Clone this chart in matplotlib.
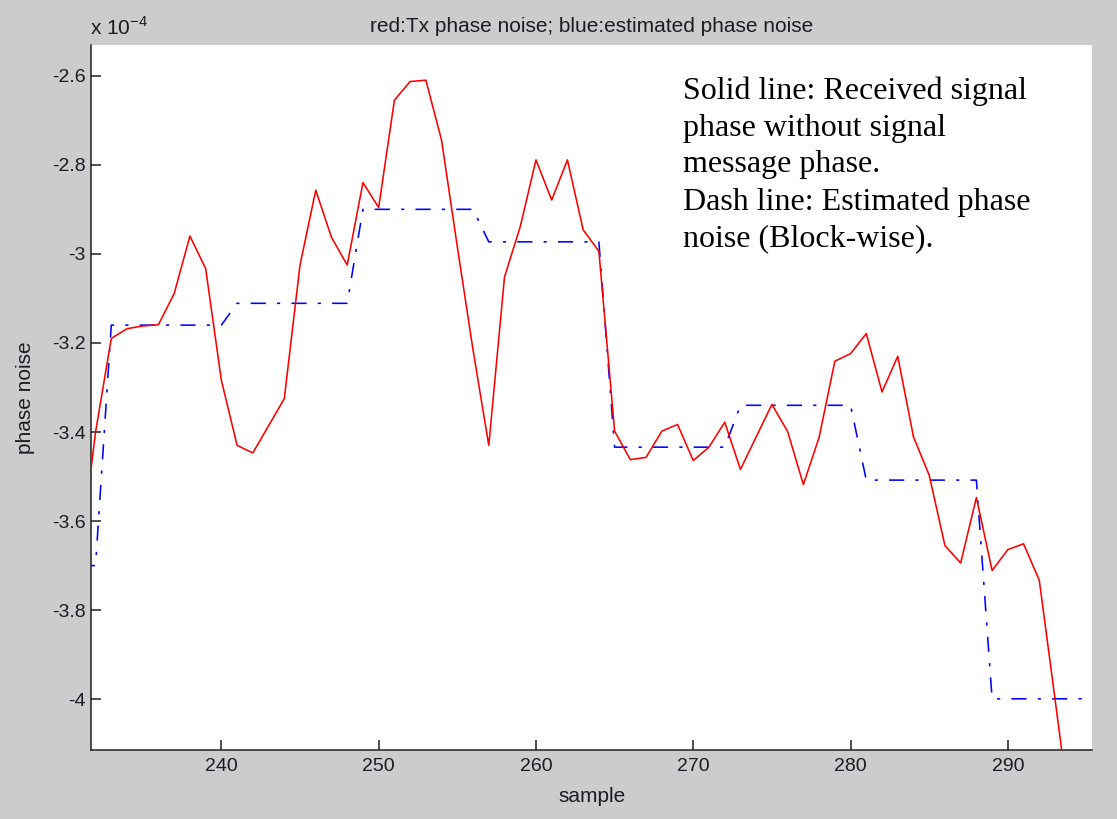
import matplotlib
matplotlib.use("Agg")
import matplotlib.pyplot as plt
from matplotlib.ticker import FuncFormatter

# samples
samples = list(range(231, 295))

# received phase noise (units of 1e-4 rad), red solid
tx_phase = [-3.69, -3.40, -3.19, -3.168, -3.162, -3.159, -3.089, -2.960, -3.033, -3.284,
            -3.430, -3.447, -3.386, -3.325, -3.025, -2.857, -2.963, -3.025, -2.840, -2.896,
            -2.655, -2.613, -2.610, -2.745, -2.984, -3.216, -3.430, -3.052, -2.939, -2.789,
            -2.879, -2.789, -2.946, -2.994, -3.398, -3.462, -3.457, -3.398, -3.383, -3.464,
            -3.434, -3.378, -3.484, -3.411, -3.338, -3.399, -3.518, -3.412, -3.241, -3.224,
            -3.179, -3.310, -3.230, -3.411, -3.497, -3.655, -3.694, -3.547, -3.711, -3.664,
            -3.651, -3.733, -4.000, -4.270]

# block-wise estimated phase noise (8-sample blocks), blue dash-dot
block_starts = [225, 233, 241, 249, 257, 265, 273, 281, 289]
block_values = [-3.700, -3.160, -3.111, -2.900, -2.973, -3.434, -3.340, -3.508, -3.999]
block_len = 8

est_x = []
est_y = []
for b0, bv in zip(block_starts, block_values):
    for s in range(b0, b0 + block_len):
        if 231 <= s <= 296:
            est_x.append(s)
            est_y.append(bv)

title = "red:Tx phase noise; blue:estimated phase noise"
note = ("Solid line: Received signal\nphase without signal\nmessage phase.\n"
        "Dash line: Estimated phase\nnoise (Block-wise).")
x_ticks = [240, 250, 260, 270, 280, 290]
y_ticks = [-4.0, -3.8, -3.6, -3.4, -3.2, -3.0, -2.8, -2.6]

plt.rcParams['font.family'] = ['Liberation Sans', 'DejaVu Sans']
TXT = '#1c1c24'

W, H = 1117, 819
fig = plt.figure(figsize=(W / 100, H / 100), dpi=100, facecolor='#cccccc')
ax = fig.add_axes([91.3 / W, 1 - 750 / H, (1092 - 91.3) / W, (750 - 45) / H])
ax.set_facecolor('white')

ax.plot(samples, tx_phase, color='#ff0000', lw=1.15, zorder=3)
ax.plot(est_x, est_y, color='#0000ff', lw=1.15, linestyle=(0, (9.5, 7.0, 2.0, 7.0)), zorder=2)

ax.set_xlim(231.73, 295.35)
ax.set_ylim(-4.114, -2.531)

for sp in ['top', 'right']:
    ax.spines[sp].set_visible(False)
for sp in ['left', 'bottom']:
    ax.spines[sp].set_linewidth(1.1)
    ax.spines[sp].set_color('#202020')

ax.set_xticks(x_ticks)
ax.set_yticks(y_ticks)
ax.yaxis.set_major_formatter(FuncFormatter(lambda v, p: ('%g' % round(v, 3))))
ax.tick_params(direction='in', length=7.5, width=1.1, labelsize=14, color='#202020',
               labelcolor=TXT)
ax.tick_params(axis='y', pad=4)
ax.tick_params(axis='x', pad=5.5)

ax.set_xlabel('sample', fontsize=15, color=TXT)
ax.set_ylabel('phase noise', fontsize=15, color=TXT)
ax.xaxis.set_label_coords(0.5, -(787 - 750) / 705)
ax.yaxis.set_label_coords((35 - 91.3) / 1000.7, 0.5)

fig.text(591.6 / W, 1 - 32 / H, title, fontsize=15, color=TXT, ha='center', va='baseline')

fig.text(90 / W, 1 - 35 / H, r'x 10$^{\mathregular{-4}}$', fontsize=15, color=TXT,
         ha='left', va='baseline')

ax.text(683 / W, 1 - 77 / H, note, transform=fig.transFigure, fontsize=23,
        family=['Liberation Serif', 'DejaVu Serif'], ha='left', va='top',
        linespacing=1.34, color='black')

fig.savefig('out.png', dpi=100, facecolor=fig.get_facecolor())
